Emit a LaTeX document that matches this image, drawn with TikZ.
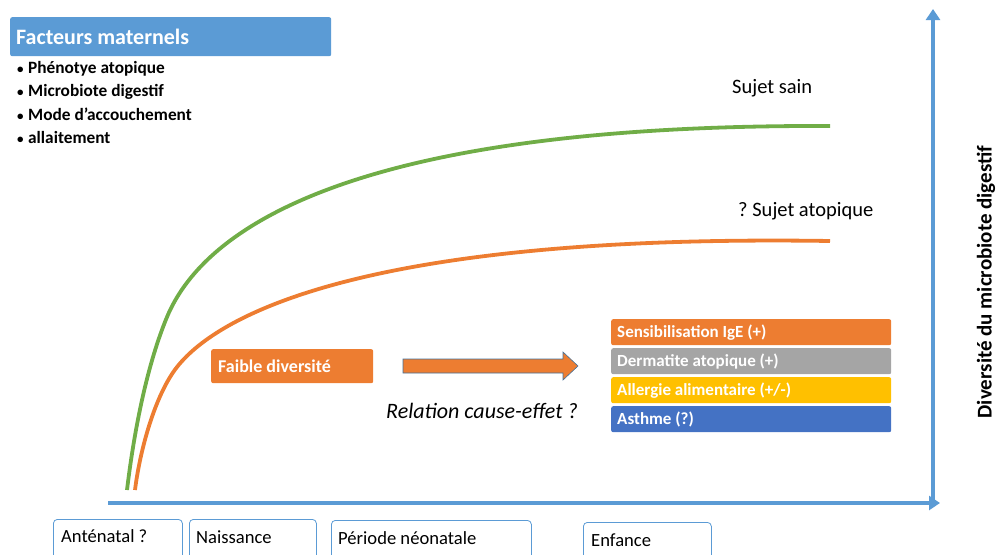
\documentclass[tikz,border=0pt]{standalone}
\usepackage{fontspec}
\setmainfont{Carlito}
\usetikzlibrary{arrows.meta}
\definecolor{axblue}{HTML}{5B9BD5}
\definecolor{cgreen}{HTML}{70AD47}
\definecolor{corange}{HTML}{ED7D31}
\definecolor{cgray}{HTML}{A5A5A5}
\definecolor{cyellow}{HTML}{FFC000}
\definecolor{cblue}{HTML}{4472C4}
\definecolor{bord}{HTML}{41719C}
\frenchspacing
\newcommand{\bul}{{\fontsize{13}{14}\selectfont•}\hspace{4.5pt}}
\begin{document}
\begin{tikzpicture}[x=1pt,y=-1pt,
  filledbox/.style={rounded corners=2pt,inner sep=0pt,anchor=north west},
  boxtext/.style={anchor=west,text=white,inner sep=0pt,font=\bfseries\fontsize{17}{19}\selectfont},
  periodbox/.style={draw=axblue,line width=0.8pt,rounded corners=4pt,anchor=north west,inner sep=0pt},
  periodtext/.style={anchor=west,inner sep=0pt,font=\fontsize{18.6}{20}\selectfont},
  bullet/.style={anchor=west,font=\bfseries\fontsize{17.3}{19}\selectfont,inner sep=0pt},
  curve/.style={line width=3.8pt}]
\useasboundingbox (0,0) rectangle (1000,554);
% title
\node[filledbox,fill=axblue,minimum width=321pt,minimum height=39pt] (title) at (10,17) {};
\node[anchor=west,text=white,font=\bfseries\fontsize{22}{24}\selectfont,inner sep=0pt] (titletext) at (16,37) {Facteurs maternels};
\node[bullet] (b1) at (17,69) {\bul Phénotye atopique};
\node[bullet] (b2) at (17,92) {\bul Microbiote digestif};
\node[bullet] (b3) at (17,114) {\bul Mode d’accouchement};
\node[bullet] (b4) at (17,137) {\bul allaitement};
% axes
\coordinate (origin) at (108,503);
\coordinate (xend) at (940,503);
\coordinate (ybot) at (933,503);
\coordinate (ytop) at (933,9);
\draw[axblue,line width=4.5pt,-{Triangle[length=11pt,width=14pt]}] (origin) -- (xend);
\draw[axblue,line width=4.5pt,-{Triangle[length=11pt,width=14pt]}] (ybot) -- (ytop);
% curves
\draw[cgreen,curve] (127,490) .. controls (133,440) and (145,370) .. (167,317)
   .. controls (200,238) and (330,124) .. (830,126);
\draw[corange,curve] (135,490) .. controls (140,450) and (155,395) .. (177,367)
   .. controls (222,310) and (380,234) .. (830,241);
% labels
\node[font=\fontsize{20.5}{22}\selectfont,anchor=west,inner sep=0pt] (sain) at (732,88) {Sujet sain};
\node[font=\fontsize{20.5}{22}\selectfont,anchor=west,inner sep=0pt] (atop) at (738,211) {? Sujet atopique};
\node[filledbox,fill=corange,minimum width=162pt,minimum height=34pt] (faible) at (211,349) {};
\node[boxtext,font=\bfseries\fontsize{18}{20}\selectfont] (faibletext) at (218,366) {Faible diversité};
\coordinate (arrs) at (403,366);
\coordinate (arre) at (578,366);
\filldraw[fill=corange,draw=bord,line width=0.6pt] ([yshift=-7pt]arrs) -- ([xshift=-15pt,yshift=-7pt]arre) -- ([xshift=-15pt,yshift=-14pt]arre) -- (arre) -- ([xshift=-15pt,yshift=14pt]arre) -- ([xshift=-15pt,yshift=7pt]arre) -- ([yshift=7pt]arrs) -- cycle;
\node[font=\itshape\fontsize{22}{24}\selectfont,anchor=west,inner sep=0pt] (rel) at (386,411) {Relation cause-effet ?};
% stacked boxes
\node[filledbox,fill=corange,minimum width=280pt,minimum height=26pt] (s1) at (611,319) {};
\node[filledbox,fill=cgray,minimum width=280pt,minimum height=26pt] (s2) at (611,348) {};
\node[filledbox,fill=cyellow,minimum width=280pt,minimum height=26pt] (s3) at (611,377) {};
\node[filledbox,fill=cblue,minimum width=280pt,minimum height=26pt] (s4) at (611,406) {};
\node[boxtext] at ([xshift=6pt]s1.west) {Sensibilisation IgE (+)};
\node[boxtext] at ([xshift=6pt]s2.west) {Dermatite atopique (+)};
\node[boxtext] at ([xshift=6pt]s3.west) {Allergie alimentaire (+/-)};
\node[boxtext] at ([xshift=6pt]s4.west) {Asthme (?)};
% period boxes
\node[periodbox,minimum width=129pt,minimum height=42pt] (p1) at (53,519) {};
\node[periodbox,minimum width=127pt,minimum height=42pt] (p2) at (189,519) {};
\node[periodbox,minimum width=200pt,minimum height=42pt] (p3) at (331,520) {};
\node[periodbox,minimum width=128pt,minimum height=42pt] (p4) at (583,522) {};
\node[periodtext] at (61,536) {Anténatal ?};
\node[periodtext] at (196,537) {Naissance};
\node[periodtext] at (338,538) {Période néonatale};
\node[periodtext] at (591,540) {Enfance};
% y label
\node[rotate=90,font=\bfseries\fontsize{21}{23}\selectfont] (ylab) at (986,282) {Diversité du microbiote digestif};
\end{tikzpicture}
\end{document}
